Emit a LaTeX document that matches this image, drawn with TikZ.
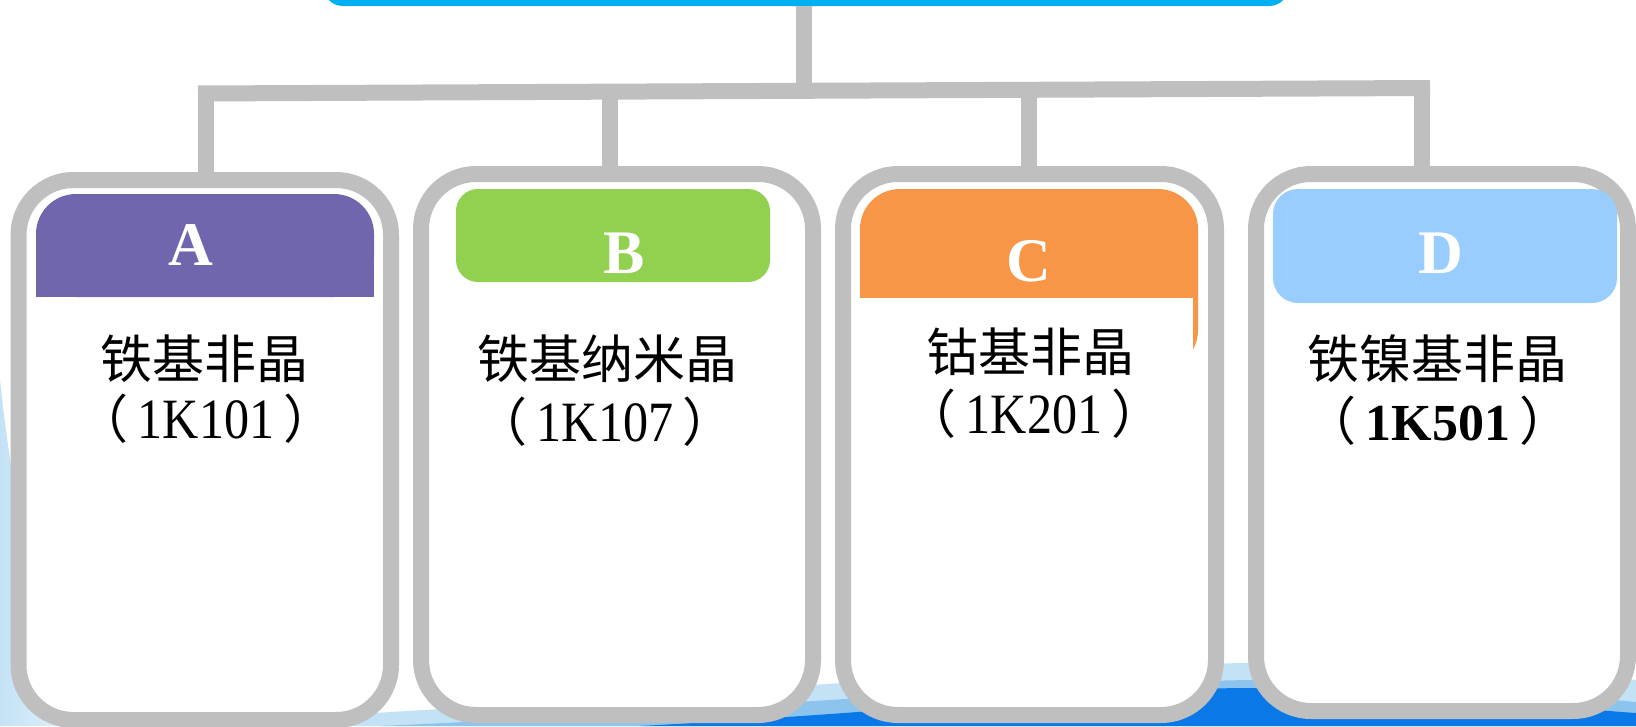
\documentclass[tikz,border=0pt]{standalone}
\usepackage{fontspec}
\setmainfont{Liberation Serif}
\newfontfamily\cjk{Noto Sans CJK SC}
\newfontfamily\codefont[FakeStretch=0.88]{Liberation Serif}
\usetikzlibrary{calc}
\definecolor{linegray}{HTML}{BFBFBF}
\definecolor{topblue}{HTML}{00B0F0}
\definecolor{hA}{HTML}{7066AE}
\definecolor{hB}{HTML}{92D050}
\definecolor{hC}{HTML}{F79646}
\definecolor{hD}{HTML}{99CCFF}
\definecolor{bgl}{HTML}{C4E2F6}
\definecolor{bgm}{HTML}{8CC4EE}
\definecolor{bgd}{HTML}{0A78E6}
\newcommand{\lp}{{\cjk （}\hspace{9pt}}
\newcommand{\rp}{\hspace{9pt}{\cjk ）}}
\begin{document}
\begin{tikzpicture}[x=1pt,y=-1pt,
  conn/.style={draw=linegray,line width=16pt},
  card/.style={draw=linegray,fill=white,line width=16pt,rounded corners=55pt,inner sep=0pt,outer sep=0pt},
  hdr/.style={inner sep=0pt,outer sep=0pt},
  letter/.style={text=white,font=\fontsize{62}{62}\selectfont\bfseries,anchor=base,inner sep=0pt},
  title/.style={font=\cjk\fontsize{52}{52}\selectfont,anchor=base,inner sep=0pt},
  code/.style={font=\fontsize{52}{52}\selectfont,anchor=base,inner sep=0pt}]
\useasboundingbox (0,0) rectangle (1636,726);
\fill[white] (0,0) rectangle (1636,726);
% background swoosh
\shade[left color=bgl,right color=white] (0,380) .. controls (15,520) and (40,650) .. (140,726) -- (0,726) -- cycle;
\fill[bgl] (120,726) .. controls (600,705) and (1000,665) .. (1300,662) .. controls (1450,662) and (1560,672) .. (1636,680) -- (1636,726) -- cycle;
\fill[bgm] (380,726) .. controls (700,712) and (1000,684) .. (1250,680) .. controls (1420,680) and (1560,695) .. (1636,702) -- (1636,726) -- cycle;
\fill[bgd] (640,726) .. controls (900,712) and (1100,690) .. (1240,688) .. controls (1400,690) and (1560,708) .. (1636,713) -- (1636,726) -- cycle;
% top box
\node[hdr,fill=topblue,rounded corners=20pt,minimum width=966pt,minimum height=40pt] (top) at (806,-14) {};
% connectors
\coordinate (bl) at (198,93.5);
\coordinate (br) at (1430,88);
\coordinate (stemfoot) at (804,91);
\coordinate (dA) at (206,93);
\coordinate (dB) at (610,92);
\coordinate (dC) at (1029,89);
\coordinate (dD) at (1422,88);
\draw[conn] (top.south -| stemfoot) -- (stemfoot);
\draw[conn] (bl) -- (br);
% cards
\node[card,minimum width=372.5pt,minimum height=540pt] (cardA) at (204.75,450) {};
\node[card,minimum width=392pt,minimum height=541pt] (cardB) at (617,444.5) {};
\node[card,minimum width=373pt,minimum height=541pt] (cardC) at (1029.5,444.5) {};
\node[card,minimum width=372pt,minimum height=537pt] (cardD) at (1442,442.5) {};
\draw[conn] (dA) -- ($(dA |- cardA.north)+(0,-8)$);
\draw[conn] (dB) -- ($(dB |- cardB.north)+(0,-8)$);
\draw[conn] (dC) -- ($(dC |- cardC.north)+(0,-8)$);
\draw[conn] (dD) -- ($(dD |- cardD.north)+(0,-8)$);
% headers
\fill[hA,rounded corners=40pt] (36,194) rectangle (374,297);
\fill[hA] (36,250) rectangle (374,297);
\node[hdr,fill=hB,rounded corners=22pt,minimum width=314pt,minimum height=93pt] (hdrB) at (613,235.5) {};
\fill[hC,rounded corners=40pt] (860,189) rectangle (1198,370);
\fill[white] (852,298) rectangle (1193,385);
\node[hdr,fill=hD,rounded corners=25pt,minimum width=344pt,minimum height=114pt] (hdrD) at (1445,246) {};
% letters
\node[letter] (lA) at (191,265) {A};
\node[letter] (lB) at (624,273) {B};
\node[letter] (lC) at (1029,281) {C};
\node[letter] (lD) at (1441,273) {D};
% titles
\node[title] (tA) at (204,378) {铁基非晶};
\node[code] (cA) at (206,438) {\lp{\codefont\fontsize{57}{57}\selectfont 1K101}\rp};
\node[title] (tB) at (607,378) {铁基纳米晶};
\node[code] (cB) at (605,441) {\lp{\codefont\fontsize{57}{57}\selectfont 1K107}\rp};
\node[title] (tC) at (1030,371) {钴基非晶};
\node[code] (cC) at (1034,433) {\lp{\codefont\fontsize{57}{57}\selectfont 1K201}\rp};
\node[title] (tD) at (1437,378) {铁镍基非晶};
\node[code] (cD) at (1438,440) {\lp{\bfseries 1K501}\rp};
\end{tikzpicture}
\end{document}
